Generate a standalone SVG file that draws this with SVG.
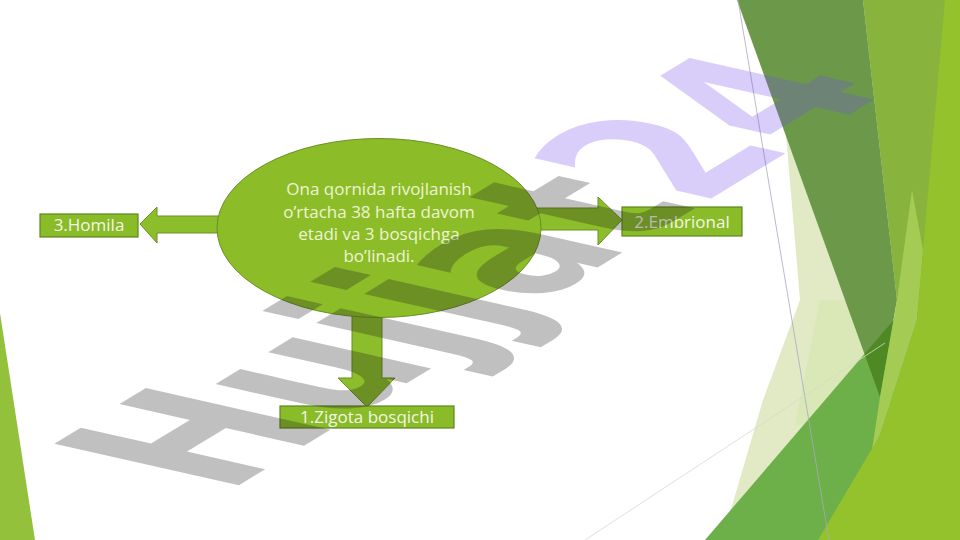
<svg xmlns="http://www.w3.org/2000/svg" width="960" height="540" viewBox="0 0 960 540">
  <defs>
    <style>
      .lbl { font-family: "Open Sans", "Liberation Sans", sans-serif; font-size: 17px; fill: #f3f6e6; text-anchor: middle; }
      .elbl { font-family: "Open Sans", "Liberation Sans", sans-serif; font-size: 17px; fill: #eef4d2; text-anchor: middle; }
      .box { fill: #8abb28; stroke: #5d861c; stroke-width: 1.2; }
      .arrow { fill: #8cbd2a; stroke: #6a8f22; stroke-width: 1; }
    </style>
  </defs>
  <rect x="0" y="0" width="960" height="540" fill="#ffffff"/>
  <g id="decoration">
    <polygon points="0,313 35,540 0,540" fill="#93c13c"/>
    <polygon points="786,135 800,300 763,400 722,540 860,540 880,397" fill="#e1eac4"/>
    <polygon points="820,300 846,300 880,397 845,425 795,425" fill="#d6e4ad" fill-opacity="0.6"/>
    <polygon points="863,0 960,0 960,540 818,540 877,440 887,400 897,300" fill="#88b43d"/>
    <polygon points="705,540 885,330 960,245 960,540" fill="#6daf48"/>
    <polygon points="737,0 863,0 897,300 880,397" fill="#46801c" fill-opacity="0.8"/>
    <polygon points="912,190 923,250 917,320 880,435 872,450 880,397 897,300" fill="#a4cc55"/>
    <polygon points="818,540 880,435 917,320 945,0 960,0 960,540" fill="#94c22c"/>
    <line x1="738" y1="0" x2="829" y2="540" stroke="#a8a8c0" stroke-width="0.8"/>
    <line x1="585" y1="540" x2="885" y2="343" stroke="#d5dbc8" stroke-width="0.8"/>
  </g>
  <g id="connectors">
    <polygon class="arrow" points="140,224 157,207 157,216 222,216 222,233 157,233 157,243"/>
    <polygon class="arrow" points="532,208 598,208 598,197 622,220 598,245 598,230 532,230"/>
    <polygon class="arrow" points="352,300 382,300 382,378 395,378 367,407 338,378 352,378"/>
  </g>
  <g id="node-center">
    <ellipse cx="379" cy="228" rx="162" ry="89.5" fill="#8cbd29" stroke="#6a8f24" stroke-width="1"/>
    <text class="elbl" x="379" y="195">Ona qornida rivojlanish</text>
    <text class="elbl" x="379" y="218">o’rtacha 38 hafta davom</text>
    <text class="elbl" x="379" y="240">etadi va 3 bosqichga</text>
    <text class="elbl" x="379" y="262">bo’linadi.</text>
  </g>
  <g id="node-homila">
    <rect class="box" x="40" y="214" width="98" height="23"/>
    <text class="lbl" x="89" y="231">3.Homila</text>
  </g>
  <g id="node-embrional">
    <rect class="box" x="622" y="207" width="120" height="29"/>
    <text class="lbl" x="682" y="228">2.Embrional</text>
  </g>
  <g id="node-zigota">
    <rect class="box" x="280" y="406" width="174" height="22"/>
    <text class="lbl" x="367" y="423">1.Zigota bosqichi</text>
  </g>
  <g id="watermark">
    <text transform="matrix(1.40,-0.85,2.53,0.57,226,493)" font-family="DejaVu Sans, sans-serif" font-weight="bold" font-size="100" opacity="0.27"><tspan fill="#1b1b1b">Hujjat</tspan><tspan fill="#7549ed">24</tspan></text>
  </g>
</svg>
